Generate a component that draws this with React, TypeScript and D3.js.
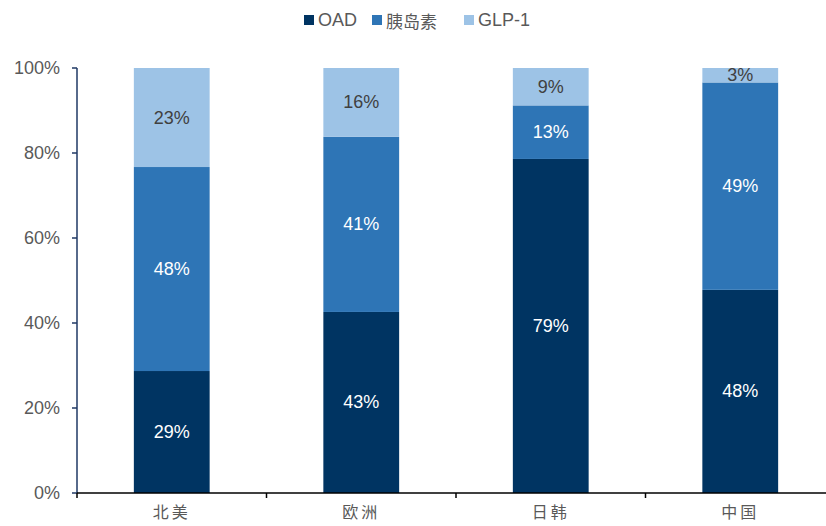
import React from "react";
import * as d3 from "d3";

const categories = ["北美", "欧洲", "日韩", "中国"];
const seriesNames = ["OAD", "胰岛素", "GLP-1"];
const oadValues = [28.7, 42.6, 78.6, 47.8];
const insulinValues = [48.0, 41.2, 12.6, 48.8];
const glpValues = [23.3, 16.2, 8.8, 3.4];
const yTicks = [0, 20, 40, 60, 80, 100];

const colors = ["#003462", "#2E75B6", "#9DC3E6"];
const labelColors = ["#ffffff", "#ffffff", "#404040"];

const W = 826;
const H = 526;
const margin = { left: 77, right: -9, top: 68, bottom: 33 };

export default function App() {
  const x = d3
    .scaleBand<string>()
    .domain(categories)
    .range([margin.left, W - margin.right])
    .paddingInner(0)
    .paddingOuter(0);
  const y = d3.scaleLinear().domain([0, 100]).range([H - margin.bottom, margin.top]);

  const table = categories.map((c, i) => ({
    cat: c,
    OAD: oadValues[i],
    胰岛素: insulinValues[i],
    "GLP-1": glpValues[i],
  }));
  const stacked = d3.stack<any>().keys(seriesNames)(table);
  const barW = x.bandwidth() * 0.4;
  const sansFont = "Arial, 'Liberation Sans', sans-serif";
  const cjkFont = "'Noto Sans CJK SC', sans-serif";

  const legendItems = [
    { name: seriesNames[0], x: 304 },
    { name: seriesNames[1], x: 372 },
    { name: seriesNames[2], x: 464 },
  ];

  const boundaries = [...categories.map((c) => x(c)!), x.range()[1]];

  return (
    <div style={{ position: "fixed", left: 0, top: 0 }}>
      <svg width={W} height={H} style={{ display: "block", background: "#fff" }}>
        {/* legend */}
        {legendItems.map((l, i) => (
          <g key={l.name}>
            <rect x={l.x} y={15} width={10} height={10} fill={colors[i]} />
            <text
              x={l.x + 14}
              y={20}
              dominantBaseline="central"
              fontSize={i === 1 ? 17 : 18}
              fill="#595959"
              fontFamily={i === 1 ? cjkFont : sansFont}
            >
              {l.name}
            </text>
          </g>
        ))}

        {/* bars */}
        {stacked.map((s, si) =>
          s.map((d, ci) => {
            const cat = categories[ci];
            const x0 = x(cat)! + (x.bandwidth() - barW) / 2;
            const yTop = y(d[1]);
            const yBot = y(d[0]);
            const v = d[1] - d[0];
            return (
              <g key={`${si}-${ci}`}>
                <rect x={x0} y={yTop} width={barW} height={yBot - yTop} fill={colors[si]} />
                <text
                  x={x0 + barW / 2}
                  y={(yTop + yBot) / 2}
                  textAnchor="middle"
                  dominantBaseline="central"
                  fontSize={18}
                  fill={labelColors[si]}
                  fontFamily={sansFont}
                >
                  {d3.format(".0f")(v)}%
                </text>
              </g>
            );
          })
        )}

        {/* y axis */}
        <line x1={margin.left} x2={margin.left} y1={y(100)} y2={y(0)} stroke="#1F3864" strokeWidth={1.5} />
        {yTicks.map((t) => (
          <g key={t}>
            <line x1={margin.left - 5} x2={margin.left} y1={y(t)} y2={y(t)} stroke="#1F3864" strokeWidth={1.5} />
            <text
              x={margin.left - 17}
              y={y(t)}
              textAnchor="end"
              dominantBaseline="central"
              fontSize={18}
              fill="#595959"
              fontFamily={sansFont}
            >
              {t}%
            </text>
          </g>
        ))}

        {/* x axis */}
        <line x1={margin.left} x2={W} y1={y(0)} y2={y(0)} stroke="#000" strokeWidth={1.5} />
        {boundaries.map((b, i) => (
          <line key={i} x1={b} x2={b} y1={y(0)} y2={y(0) + 5} stroke="#000" strokeWidth={1.5} />
        ))}
        {categories.map((c) => (
          <text
            key={c}
            x={x(c)! + x.bandwidth() / 2}
            y={518}
            textAnchor="middle"
            fontSize={16}
            fill="#595959"
            fontFamily={cjkFont}
            letterSpacing={3}
          >
            {c}
          </text>
        ))}
      </svg>
    </div>
  );
}
